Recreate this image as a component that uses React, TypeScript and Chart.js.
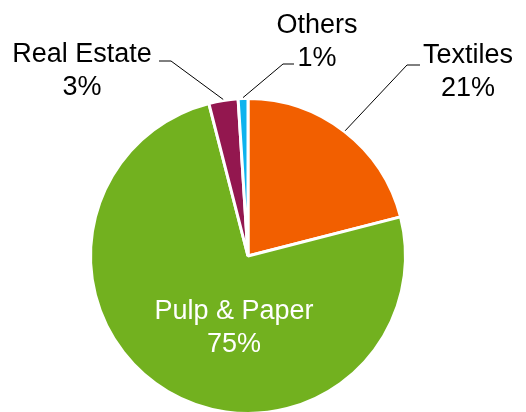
import React, { useEffect, useRef } from "react";
import { Chart, registerables } from "chart.js";

Chart.register(...registerables);

const categories = ["Textiles", "Pulp & Paper", "Real Estate", "Others"];
const shares = [21, 75, 3, 1];
const percentLabels = ["21%", "75%", "3%", "1%"];
const sliceColors = ["#F25F00", "#72B11F", "#93174F", "#0DB3EE"];

// Label layout (offsets relative to pie centre), not data
const labelLayout = [
  { line: true, elbow: [159, -191], end: [172, -191], tx: 220, ty: -193, color: "#000" },
  { line: false, tx: -14, ty: 63, color: "#fff" },
  { line: true, elbow: [-77, -195], end: [-89, -195], tx: -166, ty: -194, color: "#000" },
  { line: true, elbow: [35, -192], end: [46, -192], tx: 69, ty: -223, color: "#000" },
];

const FONT = '27px "Liberation Sans", Arial, sans-serif';
const LINE_H = 32.5;

const labelPlugin = {
  id: "pieLabels",
  afterDatasetsDraw(chart: any) {
    const ctx = chart.ctx;
    const meta = chart.getDatasetMeta(0);
    ctx.save();
    meta.data.forEach((arc: any, i: number) => {
      const lay = labelLayout[i];
      const cx = arc.x;
      const cy = arc.y;
      if (lay.line) {
        const mid = (arc.startAngle + arc.endAngle) / 2;
        const r = arc.outerRadius + 1;
        const ax = cx + Math.cos(mid) * r;
        const ay = cy + Math.sin(mid) * r;
        ctx.beginPath();
        ctx.strokeStyle = "#000";
        ctx.lineWidth = 1;
        ctx.moveTo(ax, ay);
        ctx.lineTo(cx + lay.elbow![0], cy + lay.elbow![1]);
        ctx.lineTo(cx + lay.end![0], cy + lay.end![1]);
        ctx.stroke();
      }
      ctx.font = FONT;
      ctx.fillStyle = lay.color;
      ctx.textAlign = "center";
      ctx.textBaseline = "alphabetic";
      ctx.fillText(categories[i], cx + lay.tx, cy + lay.ty);
      ctx.fillText(percentLabels[i], cx + lay.tx, cy + lay.ty + LINE_H);
    });
    ctx.restore();
  },
};

export default function App() {
  const ref = useRef<HTMLCanvasElement>(null);
  useEffect(() => {
    if (!ref.current) return;
    const chart = new Chart(ref.current, {
      type: "pie",
      data: {
        labels: categories,
        datasets: [
          {
            data: shares,
            backgroundColor: sliceColors,
            borderColor: "#ffffff",
            borderWidth: 3,
          },
        ],
      },
      options: {
        responsive: false,
        animation: false,
        layout: { padding: { top: 97, bottom: 5, left: 0, right: 30 } },
        plugins: {
          legend: { display: false },
          tooltip: { enabled: false },
          title: { display: false },
        },
      },
      plugins: [labelPlugin],
    });
    return () => chart.destroy();
  }, []);
  return (
    <div style={{ position: "absolute", left: 0, top: 0, width: 526, height: 420, background: "#fff" }}>
      <canvas ref={ref} width={526} height={420} style={{ display: "block" }} />
    </div>
  );
}
